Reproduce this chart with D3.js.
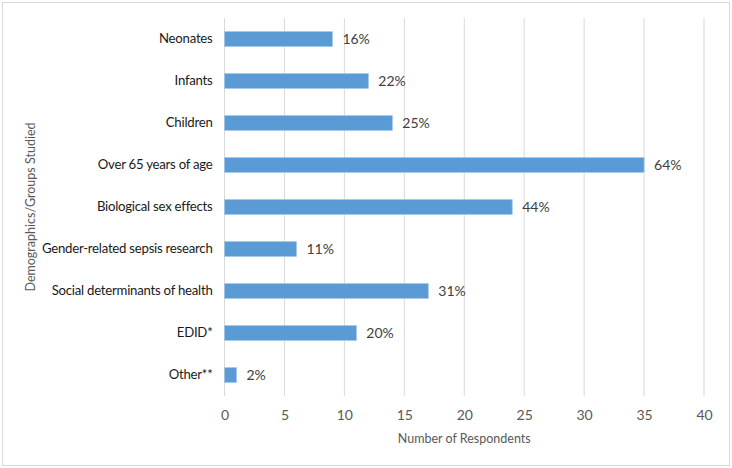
<!DOCTYPE html>
<html>
<head>
<meta charset="utf-8">
<script src="https://cdn.jsdelivr.net/npm/d3@7"></script>
<style>
  body { margin: 0; background: #fff; }
  text { font-family: Lato, "Open Sans", sans-serif; }
</style>
</head>
<body>
<svg id="viz" width="732" height="468"></svg>
<script>
// chart data
var categories = ['Neonates', 'Infants', 'Children', 'Over 65 years of age', 'Biological sex effects',
  'Gender-related sepsis research', 'Social determinants of health', 'EDID*', 'Other**']
var counts = [9, 12, 14, 35, 24, 6, 17, 11, 1]
var percents = ['16%', '22%', '25%', '64%', '44%', '11%', '31%', '20%', '2%']
var xTicks = [0, 5, 10, 15, 20, 25, 30, 35, 40]

var width = 732, height = 468
var margin = {top: 18, right: 28, bottom: 72, left: 224.5}

var svg = d3.select('svg#viz')

// outer frame
svg.append('rect')
    .attr('x', 2.5).attr('y', 2.5)
    .attr('width', width - 5).attr('height', height - 5)
    .attr('fill', '#fff')
    .attr('stroke', '#d9d9d9')

var x = d3.scaleLinear()
    .domain([0, 40])
    .range([margin.left, 704])

var y = d3.scaleBand()
    .domain(categories)
    .range([margin.top, 396])
    .paddingInner(0.65)
    .paddingOuter(0.325)

// gridlines
svg.append('g')
  .selectAll('line')
  .data(xTicks)
  .join('line')
    .attr('x1', d => x(d)).attr('x2', d => x(d))
    .attr('y1', margin.top).attr('y2', 396)
    .attr('stroke', '#d9d9d9')
    .attr('stroke-width', 1)

// x axis labels
var xAxis = svg.append('g')
    .attr('transform', 'translate(0,396)')
    .call(d3.axisBottom(x).tickValues(xTicks).tickSize(0).tickPadding(14))
xAxis.select('.domain').remove()
xAxis.selectAll('text')
    .attr('fill', '#595959')
    .style('font-size', '14px')
    .style('font-family', 'Lato, sans-serif')

// y axis labels
var yAxis = svg.append('g')
    .attr('transform', `translate(${margin.left},0)`)
    .call(d3.axisLeft(y).tickSize(0).tickPadding(12))
yAxis.select('.domain').remove()
yAxis.selectAll('text')
    .attr('fill', '#1a1a1a')
    .style('font-size', '13.2px')
    .style('letter-spacing', '-0.25px')
    .style('font-family', 'Lato, sans-serif')

// bars
svg.append('g')
  .selectAll('rect')
  .data(categories)
  .join('rect')
    .attr('x', x(0))
    .attr('y', d => y(d))
    .attr('width', (d, i) => x(counts[i]) - x(0))
    .attr('height', y.bandwidth())
    .attr('fill', '#5b9bd5')
    .attr('stroke', '#9dc3e6')
    .attr('stroke-width', 0.75)

// value labels
svg.append('g')
  .selectAll('text')
  .data(categories)
  .join('text')
    .attr('x', (d, i) => x(counts[i]) + 10)
    .attr('y', d => y(d) + y.bandwidth() / 2)
    .attr('dy', '0.35em')
    .attr('fill', '#404040')
    .style('font-size', '14px')
    .text((d, i) => percents[i])

// axis titles
svg.append('text')
    .attr('x', (x(0) + x(40)) / 2)
    .attr('y', 443)
    .attr('text-anchor', 'middle')
    .attr('fill', '#595959')
    .style('font-size', '12.5px')
    .text('Number of Respondents')

svg.append('text')
    .attr('transform', `translate(35,${(margin.top + 396) / 2}) rotate(-90)`)
    .attr('text-anchor', 'middle')
    .attr('fill', '#595959')
    .style('font-size', '12.5px')
    .text('Demographics/Groups Studied')
</script>
</body>
</html>
